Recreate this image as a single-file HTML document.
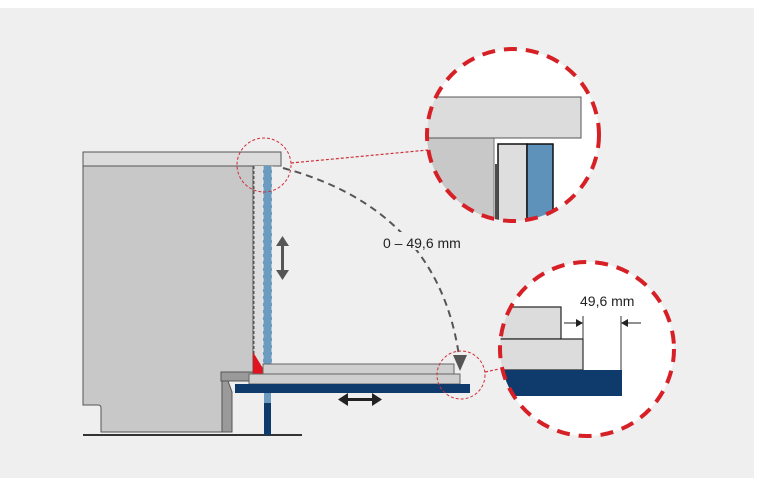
<!DOCTYPE html>
<html><head><meta charset="utf-8"><style>
html,body{margin:0;padding:0;background:#fff;}
svg{display:block;}
text{font-family:"Liberation Sans",Arial,sans-serif;}
</style></head><body>
<svg width="759" height="478" viewBox="0 0 759 478" xmlns="http://www.w3.org/2000/svg">
<defs>
<clipPath id="c1"><circle cx="513" cy="135" r="86"/></clipPath>
<clipPath id="c2"><circle cx="587" cy="349" r="87"/></clipPath>
</defs>
<rect x="0" y="8" width="754" height="470" fill="#efefef"/>

<!-- body -->
<path d="M83,166 H253 V372 H221 V381 H222 V432 H101 V408 Q101,405 98,405 H83 Z" fill="#c8c8c8" stroke="#555" stroke-width="1"/>
<rect x="221" y="372" width="32" height="9" fill="#9a9a9a" stroke="#555" stroke-width="1"/>
<path d="M222,381 H228 L232,392 V432 H222 Z" fill="#9a9a9a" stroke="#555" stroke-width="1"/>
<rect x="83" y="152" width="198" height="14" fill="#dcdcdc" stroke="#555" stroke-width="1"/>
<line x1="83" y1="435" x2="302" y2="435" stroke="#333" stroke-width="2"/>

<!-- door strip -->
<rect x="254" y="166" width="9" height="198" fill="#dedede"/>
<line x1="254" y1="166" x2="254" y2="364" stroke="#555" stroke-dasharray="3,2"/>
<rect x="263" y="166" width="9" height="198" fill="#6b9cc0"/>
<line x1="263" y1="166" x2="263" y2="364" stroke="#eee" stroke-dasharray="4,3" stroke-width="1"/>
<line x1="272" y1="166" x2="272" y2="364" stroke="#eee" stroke-dasharray="4,3" stroke-width="1"/>
<polygon points="253,352 253,375 267,375" fill="#e0141e"/>

<!-- panels -->
<rect x="263" y="364" width="191" height="10" fill="#cfcfcf" stroke="#666" stroke-width="1"/>
<rect x="249" y="374" width="211" height="10" fill="#cfcfcf" stroke="#666" stroke-width="1"/>
<rect x="235" y="384" width="235" height="9" fill="#0e3a6c"/>
<rect x="264" y="393" width="7" height="10" fill="#6b9cc0"/>
<rect x="264" y="403" width="7" height="32" fill="#0e3a6c"/>

<!-- arrows -->
<g fill="#555">
<rect x="281" y="244" width="3" height="28"/>
<polygon points="276,246 289,246 282.5,236"/>
<polygon points="276,270 289,270 282.5,280"/>
</g>
<g fill="#222">
<rect x="346" y="398" width="28" height="3"/>
<polygon points="348,393 348,406 338,399.5"/>
<polygon points="372,393 372,406 382,399.5"/>
</g>

<!-- dashed arc -->
<path d="M283,168 Q438,210 459,356" fill="none" stroke="#555" stroke-width="2" stroke-dasharray="7,5"/>
<polygon points="453,355 467,355 460,371" fill="#555"/>
<rect x="379" y="232" width="106" height="18" fill="#efefef"/>
<text x="383" y="248" font-size="14" fill="#222">0 – 49,6 mm</text>

<!-- small circles & connectors -->
<circle cx="264" cy="165" r="27" fill="none" stroke="#d0303a" stroke-width="1" stroke-dasharray="3,2"/>
<circle cx="461" cy="375" r="24" fill="none" stroke="#d0303a" stroke-width="1" stroke-dasharray="3,2"/>
<line x1="291" y1="163" x2="428" y2="150" stroke="#d0303a" stroke-width="1.2" stroke-dasharray="3,2"/>
<line x1="485" y1="372" x2="499" y2="369" stroke="#d0303a" stroke-width="1.2" stroke-dasharray="3,2"/>

<!-- big circle 1 -->
<circle cx="513" cy="135" r="86" fill="#fff"/>
<g clip-path="url(#c1)">
<rect x="420" y="138" width="74" height="100" fill="#c8c8c8"/>
<line x1="494" y1="138" x2="494" y2="240" stroke="#777"/>
<rect x="420" y="97" width="161" height="41" fill="#dcdcdc" stroke="#555" stroke-width="1"/>
<line x1="496" y1="164" x2="496" y2="240" stroke="#111" stroke-width="1.5"/>
<rect x="498" y="144" width="29" height="100" fill="#dedede" stroke="#111" stroke-width="1.5"/>
<rect x="527" y="144" width="26" height="100" fill="#5f92bb" stroke="#111" stroke-width="1.5"/>
</g>
<circle cx="513" cy="135" r="86" fill="none" stroke="#d71f26" stroke-width="4" stroke-dasharray="13,9"/>

<!-- big circle 2 -->
<circle cx="587" cy="349" r="87" fill="#fff"/>
<g clip-path="url(#c2)">
<rect x="495" y="307" width="66" height="32" fill="#dcdcdc" stroke="#222" stroke-width="1.2"/>
<rect x="495" y="339" width="88" height="31" fill="#dcdcdc" stroke="#222" stroke-width="1.2"/>
<rect x="495" y="370" width="127" height="26" fill="#0e3a6c"/>
</g>
<line x1="583" y1="316" x2="583" y2="370" stroke="#333" stroke-width="1"/>
<line x1="621" y1="316" x2="621" y2="370" stroke="#333" stroke-width="1"/>
<line x1="564" y1="323" x2="578" y2="323" stroke="#222"/>
<polygon points="576,319 576,327 583,323" fill="#222"/>
<line x1="626" y1="323" x2="641" y2="323" stroke="#222"/>
<polygon points="628,319 628,327 621,323" fill="#222"/>
<text x="580" y="306" font-size="14" fill="#222">49,6 mm</text>
<circle cx="587" cy="349" r="87" fill="none" stroke="#d71f26" stroke-width="4" stroke-dasharray="13,9"/>
</svg>
</body></html>
